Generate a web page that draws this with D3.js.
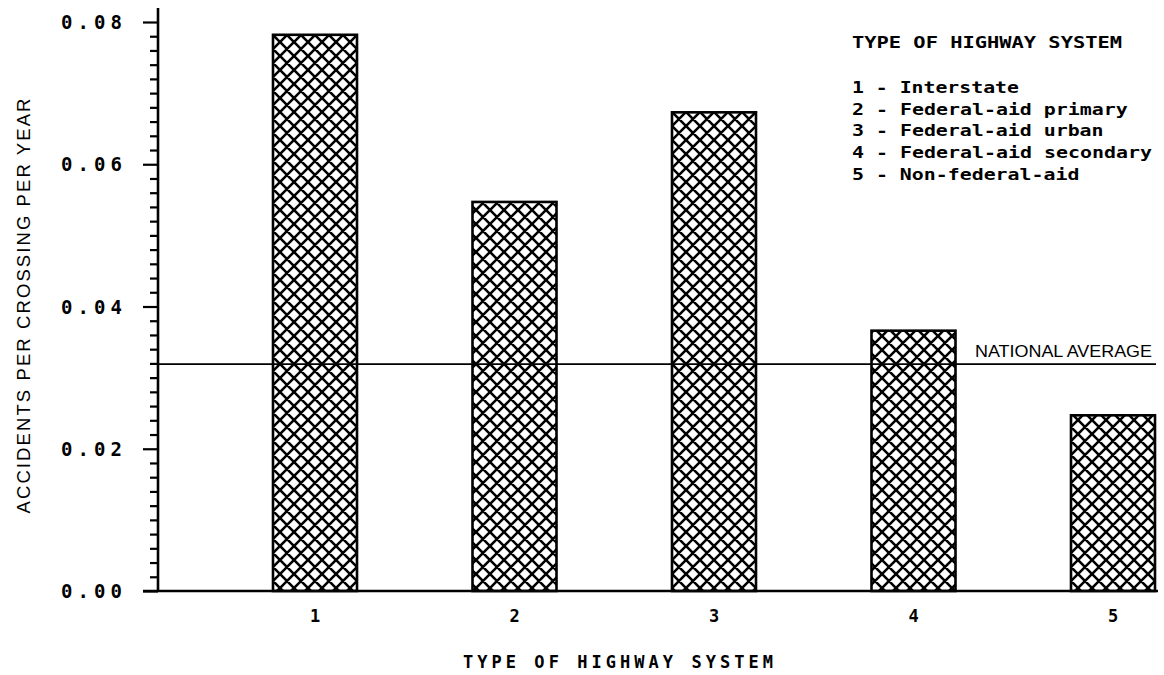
<!DOCTYPE html>
<html><head><meta charset="utf-8">
<script src="https://cdn.jsdelivr.net/npm/d3@7"></script>
<style>
html,body{margin:0;padding:0;background:#fff;}
svg{display:block;}
</style></head>
<body>
<script>
const categories = ["1","2","3","4","5"];
const values = [0.0782, 0.0547, 0.0673, 0.0366, 0.0247];
const nationalAverage = 0.0319;
const yTicks = [0, 0.02, 0.04, 0.06, 0.08];
const yTickLabels = ["0.00","0.02","0.04","0.06","0.08"];
const legendTitle = "TYPE OF HIGHWAY SYSTEM";
const legendItems = ["1 - Interstate","2 - Federal-aid primary","3 - Federal-aid urban","4 - Federal-aid secondary","5 - Non-federal-aid"];
const xTitle = "TYPE OF HIGHWAY SYSTEM";
const yTitle = "ACCIDENTS PER CROSSING PER YEAR";
const avgLabel = "NATIONAL AVERAGE";

const W = 1164, H = 675;
const svg = d3.select("body").append("svg").attr("width", W).attr("height", H);

const defs = svg.append("defs");
const pat = defs.append("pattern").attr("id","hatch").attr("patternUnits","userSpaceOnUse")
  .attr("width",14).attr("height",14).attr("x",0).attr("y",0);
pat.append("rect").attr("width",14).attr("height",14).attr("fill","#fff");
pat.append("path").attr("d","M-1,-1 L15,15 M15,-1 L-1,15 M-8,6 L8,22 M6,-8 L22,8 M6,22 L22,6 M-8,8 L8,-8")
  .attr("stroke","#000").attr("stroke-width",2.6).attr("fill","none");

const axisX = 158, baseY = 591;
const y = d3.scaleLinear().domain([0, 0.08]).range([baseY, 22]);
const x = d3.scalePoint().domain(categories).range([315, 1113]);
const barW = 84;

const mono = "'DejaVu Sans Mono', monospace";

// bars
svg.selectAll("rect.bar").data(values).enter().append("rect")
  .attr("class","bar")
  .attr("x",(d,i)=>x(categories[i]) - barW/2)
  .attr("y",d=>y(d))
  .attr("width",barW)
  .attr("height",d=>baseY - y(d))
  .attr("fill","url(#hatch)")
  .attr("stroke","#000").attr("stroke-width",2.6);

// x axis line
svg.append("line").attr("x1",143).attr("x2",1158).attr("y1",baseY).attr("y2",baseY)
  .attr("stroke","#000").attr("stroke-width",2.4);

// y axis
const yAxis = d3.axisLeft(y).tickValues(d3.range(0, 0.0801, 0.002)).tickSize(8).tickFormat("");
const gy = svg.append("g").attr("transform",`translate(${axisX},0)`).call(yAxis);
gy.select(".domain").remove();
gy.selectAll(".tick line").attr("stroke","#000").attr("stroke-width",2.2)
  .attr("x2", d => yTicks.some(t=>Math.abs(t-d)<1e-9) ? -15 : -8);
svg.append("line").attr("x1",axisX).attr("x2",axisX).attr("y1",8).attr("y2",baseY)
  .attr("stroke","#000").attr("stroke-width",2.6);

// y tick labels
svg.selectAll("text.ytl").data(yTicks).enter().append("text")
  .attr("class","ytl")
  .attr("x",122).attr("y",d=>y(d)+7)
  .attr("text-anchor","end")
  .attr("font-family",mono).attr("font-size",19).attr("font-weight","bold")
  .attr("textLength",61).attr("lengthAdjust","spacing")
  .text((d,i)=>yTickLabels[i]);

// x tick labels
svg.selectAll("text.xtl").data(categories).enter().append("text")
  .attr("class","xtl")
  .attr("x",d=>x(d)).attr("y",622)
  .attr("text-anchor","middle")
  .attr("font-family",mono).attr("font-size",17).attr("font-weight","bold")
  .text(d=>d);

// x title
svg.append("text").attr("x",463).attr("y",668)
  .attr("font-family",mono).attr("font-size",17).attr("font-weight","bold")
  .attr("textLength",310).attr("lengthAdjust","spacing")
  .text(xTitle);

// y title
svg.append("text").attr("transform","translate(30,306) rotate(-90)")
  .attr("text-anchor","middle")
  .attr("font-family","'Liberation Sans', Arial, sans-serif").attr("font-size",18.5)
  .attr("textLength",415).attr("lengthAdjust","spacing")
  .text(yTitle);

// national average
svg.append("line").attr("x1",axisX).attr("x2",1156)
  .attr("y1",y(nationalAverage)).attr("y2",y(nationalAverage))
  .attr("stroke","#000").attr("stroke-width",1.8);
svg.append("text").attr("x",975).attr("y",y(nationalAverage)-7)
  .attr("font-family","'Liberation Sans Narrow', 'Liberation Sans', sans-serif").attr("font-size",17)
  .attr("textLength",177).attr("lengthAdjust","spacingAndGlyphs")
  .text(avgLabel);

// legend
svg.append("text").attr("x",852).attr("y",48)
  .attr("font-family",mono).attr("font-size",16).attr("font-weight","bold")
  .attr("textLength",270).attr("lengthAdjust","spacingAndGlyphs")
  .text(legendTitle);
svg.selectAll("text.leg").data(legendItems).enter().append("text")
  .attr("class","leg")
  .attr("x",852).attr("y",(d,i)=>93 + i*21.7)
  .attr("font-family",mono).attr("font-size",16.5).attr("font-weight","bold")
  .attr("textLength",d=>d.length*12.1 - 2.5).attr("lengthAdjust","spacingAndGlyphs")
  .text(d=>d);
</script>
</body></html>
